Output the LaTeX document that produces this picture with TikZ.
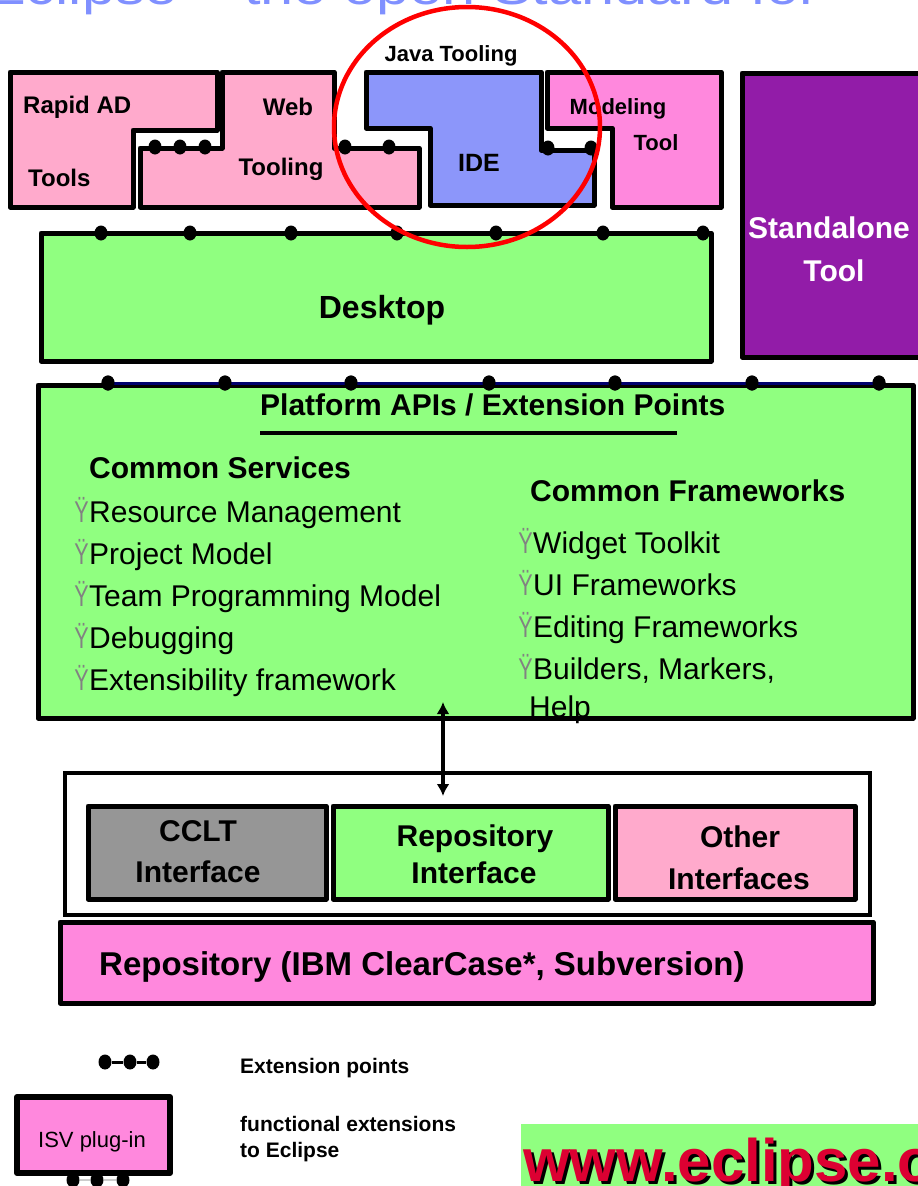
\documentclass[tikz,border=0pt]{standalone}
\usepackage{fontspec}
\setmainfont{Liberation Sans}
\usetikzlibrary{arrows.meta,shapes.geometric}
\definecolor{lgreen}{RGB}{144,255,128}
\definecolor{lpink}{RGB}{255,170,204}
\definecolor{mpink}{RGB}{255,136,221}
\definecolor{idebl}{RGB}{140,150,250}
\definecolor{purp}{RGB}{146,28,168}
\definecolor{ccgray}{RGB}{150,150,150}
\definecolor{titleblue}{RGB}{128,144,255}
\definecolor{navyline}{RGB}{0,0,110}
\definecolor{urlred}{RGB}{220,0,50}
\definecolor{bulgray}{RGB}{130,130,130}
\newcommand\fsz[1]{\fontsize{#1}{#1}\selectfont}
\newcommand\bul{\textcolor{bulgray}{\scalebox{0.72}[1]{Ÿ}}}
\begin{document}
\begin{tikzpicture}[x=1pt,y=-1pt,
  box/.style={draw=black,line width=5pt,line join=round},
  extdot/.style={ellipse,fill=black,inner sep=0pt,minimum width=13pt,minimum height=15pt},
  lab/.style={inner sep=0pt,font=\bfseries\fsz{24}},
  slab/.style={inner sep=0pt,font=\bfseries\fsz{22}},
  big/.style={inner sep=0pt,font=\bfseries\fsz{30}},
  item/.style={inner sep=0pt,anchor=base west,font=\fsz{30}},
  bulnode/.style={inner sep=0pt,anchor=base east,font=\fsz{30}},
  leg/.style={inner sep=0pt,anchor=base west,font=\bfseries\fsz{21}}]
\useasboundingbox (0,0) rectangle (918,1186);
\clip (0,0) rectangle (918,1186);
\fill[white] (0,0) rectangle (918,1186);

% cropped title
\node[inner sep=0pt,anchor=base west,text=titleblue,font=\fsz{50}] (title) at (-14,4.5) {\scalebox{1.19}[1]{Eclipse – the open Standard for}};

% top plug-in shapes
\draw[box,fill=lpink] (10,72) -- (217,72) -- (217,130) -- (133,130) -- (133,207) -- (10,207) -- cycle;
\draw[box,fill=lpink] (222,72) -- (334,72) -- (334,148) -- (419,148) -- (419,207) -- (140,207) -- (140,148) -- (222,148) -- cycle;
\draw[box,fill=idebl] (366,72) -- (541,72) -- (541,150) -- (594,150) -- (594,205) -- (430,205) -- (430,128) -- (366,128) -- cycle;
\draw[box,fill=mpink] (547,72) -- (721,72) -- (721,207) -- (612,207) -- (612,128) -- (547,128) -- cycle;

\node[extdot] (w1) at (155,147) {};
\node[extdot] (w2) at (180,147) {};
\node[extdot] (w3) at (205,147) {};
\node[extdot] (w4) at (345,147) {};
\node[extdot] (w5) at (389,147) {};
\node[extdot] (i1) at (548,148) {};
\node[extdot] (i2) at (591,148) {};

\node[lab,anchor=base west] (rapid) at (23,113) {Rapid AD};
\node[lab,anchor=base west] (tools) at (28,186) {Tools};
\node[lab,anchor=base] (web) at (288,115) {Web};
\node[lab,anchor=base] (webt) at (281,175) {Tooling};
\node[slab,anchor=base] (java) at (451,61) {Java Tooling};
\node[lab,anchor=base,font=\bfseries\fsz{25}] (ide) at (479,171) {IDE};
\node[slab,anchor=base] (model) at (618,114) {Modeling};
\node[slab,anchor=base] (modelt) at (656,150) {Tool};

% standalone tool
\draw[box,fill=purp] (742,73) rectangle (935,357);
\node[big,anchor=base,text=white] (stand) at (829,238) {Standalone};
\node[big,anchor=base,text=white] (standt) at (834,281) {Tool};

% desktop
\draw[box,fill=lgreen] (41,233) rectangle (711,361);
\foreach \i/\x in {1/101,2/190,3/291,4/397,5/496,6/603,7/703}
  \node[extdot] (d\i) at (\x,233) {};
\node[inner sep=0pt,anchor=base,font=\bfseries\fsz{32}] (desk) at (382,318) {Desktop};

% platform
\fill[lgreen] (38,385) rectangle (913,718);
\node[big,anchor=base west] (plat) at (260,415) {Platform APIs / Extension Points};
\draw[line width=3.5pt] (260,433) -- (677,433);
\node[big,anchor=base west] (cserv) at (89,478) {Common Services};
\foreach \t/\y [count=\k] in {Resource Management/522,Project Model/564,Team Programming Model/606,Debugging/648,Extensibility framework/690}{
  \node[bulnode] (sb\k) at (89,\y) {\bul};
  \node[item] (s\k) at (89,\y) {\t};
}
\node[big,anchor=base west] (cfw) at (530,501) {Common Frameworks};
\foreach \t/\y [count=\k] in {Widget Toolkit/553,UI Frameworks/595,Editing Frameworks/637,{Builders, Markers,}/679}{
  \node[bulnode] (fb\k) at (533,\y) {\bul};
  \node[item] (f\k) at (533,\y) {\t};
}
\node[item] (help) at (529,717) {Help};
\draw[box,fill=none] (38,385) rectangle (913,718);
\foreach \i/\x in {1/108,2/225,3/351,4/489,5/615,6/752,7/879}
  \node[extdot] (p\i) at (\x,383) {};
\draw[navyline,line width=3pt] (p1.center) -- (p7.center);
\foreach \i in {1,...,7}
  \fill (p\i.center) ellipse [x radius=6.5pt, y radius=7.5pt];

% interface container
\draw[draw=black,line width=4pt,fill=white] (65,773) rectangle (870,915);
\draw[box,fill=ccgray] (88,806) rectangle (326,899);
\draw[box,fill=lgreen] (333,806) rectangle (608,899);
\draw[box,fill=lpink] (615,806) rectangle (855,899);
\node[big,anchor=base] (cclt) at (198,841) {CCLT};
\node[big,anchor=base] (cclti) at (198,882) {Interface};
\node[big,anchor=base] (repi) at (475,846) {Repository};
\node[big,anchor=base] (repii) at (474,883) {Interface};
\node[big,anchor=base] (oth) at (740,847) {Other};
\node[big,anchor=base] (othi) at (739,889) {Interfaces};

% arrow
\coordinate (arTop) at (443,702);
\coordinate (arBot) at (443,796);
\draw[line width=4pt,{Latex[length=12pt,width=13pt]}-{Latex[length=12pt,width=13pt]}] (arTop) -- (arBot);

% repository
\draw[box,fill=mpink] (60,922) rectangle (873,1003);
\node[inner sep=0pt,anchor=base west,font=\bfseries\fsz{33}] (repo) at (99,975) {Repository (IBM ClearCase*, Subversion)};

% legend
\node[extdot] (le1) at (105,1062) {};
\node[extdot] (le2) at (130,1062) {};
\node[extdot] (le3) at (153,1062) {};
\draw[line width=3pt] (le1) -- (le2) -- (le3);
\node[leg] (legext) at (240,1073) {Extension points};

\draw[box,line width=6pt,fill=mpink] (17,1097) rectangle (170,1173);
\node[inner sep=0pt,anchor=base,font=\fsz{22}] (isv) at (92,1147) {ISV plug-in};
\node[extdot] (v1) at (73,1180) {};
\node[extdot] (v2) at (97,1180) {};
\node[extdot] (v3) at (123,1180) {};
\draw[gray!40,line width=1.5pt] (v1) -- (v2) -- (v3);
\node[leg] (legf1) at (240,1131) {functional extensions};
\node[leg] (legf2) at (240,1157) {to Eclipse};

% url
\fill[lgreen] (521,1124) rectangle (935,1195);
\node[inner sep=0pt,anchor=base west,font=\bfseries\fsz{60},text=urlred] (url) at (523,1181)
  {\rlap{\raisebox{-3pt}{\hspace{3pt}\textcolor{black}{www.eclipse.org}}}www.eclipse.org};

% red highlight ellipse
\draw[red,line width=4.5pt] (467,127) ellipse [x radius=133pt, y radius=120pt];
\end{tikzpicture}
\end{document}
